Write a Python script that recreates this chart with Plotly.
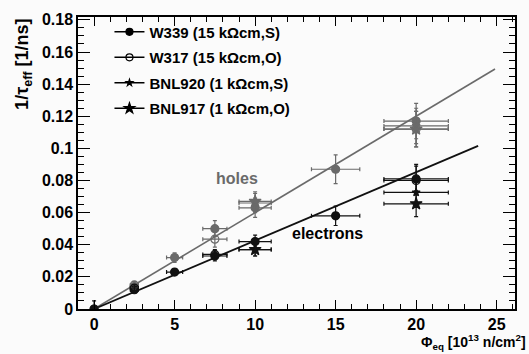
import plotly.graph_objects as go

# ---- data ----
samples = ["W339 (15 kΩcm,S)", "W317 (15 kΩcm,O)", "BNL920 (1 kΩcm,S)", "BNL917 (1 kΩcm,O)"]
symbols = ["circle", "circle-open", "star", "star"]
msizes = [8, 8, 6, 9]

# fluence [1e13 n/cm2]
w339_phi = [0, 2.5, 5, 7.5, 10, 15, 20]
w339_holes = [0.0, 0.014, 0.032, 0.050, 0.063, 0.087, 0.117]
w339_holes_err = [0.0, 0.002, 0.003, 0.005, 0.006, 0.009, 0.011]
w339_elec = [0.0, 0.012, 0.023, 0.033, 0.042, 0.058, 0.081]
w339_elec_err = [0.005, 0.002, 0.002, 0.003, 0.004, 0.006, 0.009]

w317_phi = [2.5, 7.5, 20]
w317_holes = [0.015, 0.0435, 0.112]
w317_holes_err = [0.002, 0.005, 0.011]
w317_elec = [0.013, 0.034, 0.080]
w317_elec_err = [0.002, 0.003, 0.009]

bnl920_phi = [10, 20]
bnl920_holes = [0.066, 0.114]
bnl920_holes_err = [0.006, 0.011]
bnl920_elec = [0.037, 0.0726]
bnl920_elec_err = [0.004, 0.008]

bnl917_phi = [10, 20]
bnl917_holes = [0.067, 0.112]
bnl917_holes_err = [0.006, 0.011]
bnl917_elec = [0.037, 0.0655]
bnl917_elec_err = [0.004, 0.008]

phi_rel_err = 0.10

# linear fits
fit_holes_x = [0, 24.9]
fit_holes_slope = 0.00600
fit_elec_x = [0, 23.85]
fit_elec_slope = 0.00426

x_ticks = [0, 5, 10, 15, 20, 25]
y_ticks = [0, 0.02, 0.04, 0.06, 0.08, 0.1, 0.12, 0.14, 0.16, 0.18]

HOLE_C = "#6a6a6a"
ELEC_C = "#111111"
FONT = "Liberation Sans"

fig = go.Figure()

# fit lines
fig.add_trace(go.Scatter(x=fit_holes_x, y=[fit_holes_slope * v for v in fit_holes_x],
                         mode="lines", line=dict(color=HOLE_C, width=1.6), showlegend=False, hoverinfo="skip"))
fig.add_trace(go.Scatter(x=fit_elec_x, y=[fit_elec_slope * v for v in fit_elec_x],
                         mode="lines", line=dict(color=ELEC_C, width=1.8), showlegend=False, hoverinfo="skip"))

sets = [
    (w339_phi, w339_holes, w339_holes_err, w339_elec, w339_elec_err),
    (w317_phi, w317_holes, w317_holes_err, w317_elec, w317_elec_err),
    (bnl920_phi, bnl920_holes, bnl920_holes_err, bnl920_elec, bnl920_elec_err),
    (bnl917_phi, bnl917_holes, bnl917_holes_err, bnl917_elec, bnl917_elec_err),
]

for i, (phi, h, he, e, ee) in enumerate(sets):
    xerr = [phi_rel_err * p for p in phi]
    for yv, ye, col in ((h, he, HOLE_C), (e, ee, ELEC_C)):
        fig.add_trace(go.Scatter(
            x=phi, y=yv, mode="markers",
            marker=dict(symbol=symbols[i], size=msizes[i], color=col,
                        line=dict(color=col, width=1.2)),
            error_x=dict(type="data", array=xerr, color=col, thickness=1.2, width=2),
            error_y=dict(type="data", array=ye, color=col, thickness=1.2, width=2),
            showlegend=False, hoverinfo="skip"))

# legend entries
for i, name in enumerate(samples):
    fig.add_trace(go.Scatter(
        x=[None], y=[None], mode="lines+markers", name=name,
        legendgroup=f"g{i}",
        marker=dict(symbol=symbols[i], size=msizes[i] - 1, color="black", line=dict(color="black", width=1.2)),
        line=dict(color="black", width=1.5)))

fig.add_annotation(x=8.9, y=0.0815, text="holes", showarrow=False,
                   font=dict(family=FONT, size=16, color=HOLE_C, weight="bold"))
fig.add_annotation(x=14.5, y=0.0467, text="electrons", showarrow=False,
                   font=dict(family=FONT, size=16, color="black", weight="bold"))

fig.add_annotation(xref="paper", yref="paper", x=-0.125, y=1.0, xanchor="center", yanchor="top",
                   text="1/τ<sub>eff</sub> [1/ns]", textangle=-90, showarrow=False,
                   font=dict(family=FONT, size=18, color="black", weight="bold"))
fig.add_annotation(xref="paper", yref="paper", x=1.03, y=-0.112, xanchor="right", yanchor="middle",
                   text="Φ<sub>eq</sub> [10<sup>13</sup> n/cm<sup>2</sup>]", showarrow=False,
                   font=dict(family=FONT, size=14, color="black", weight="bold"))

axis_common = dict(showgrid=False, zeroline=False, showline=True, linecolor="black", linewidth=1.5,
                   mirror="ticks", ticks="inside", tickcolor="black", tickwidth=1.2,
                   tickfont=dict(family=FONT, size=16, color="black", weight="bold"))

fig.update_xaxes(range=[-1.0, 26.14], tickvals=x_ticks, ticklen=9,
                 minor=dict(dtick=1, tick0=0, ticks="inside", ticklen=5, tickcolor="black", tickwidth=1.2),
                 **axis_common)
fig.update_yaxes(range=[0, 0.1818], tickvals=y_ticks, ticktext=[f"{v:g}" for v in y_ticks], ticklen=12,
                 minor=dict(dtick=0.005, tick0=0, ticks="inside", ticklen=6, tickcolor="black", tickwidth=1.2),
                 **axis_common)

fig.update_layout(
    width=529, height=354,
    margin=dict(l=78, r=14, t=12, b=45),
    paper_bgcolor="#fbfbfb", plot_bgcolor="#fbfbfb",
    font=dict(family=FONT, color="black"),
    legend=dict(x=0.072, y=1.005, xanchor="left", yanchor="top",
                bgcolor="rgba(0,0,0,0)", tracegroupgap=3, itemwidth=30,
                font=dict(family=FONT, size=15, color="black", weight="bold")),
)

fig.write_html("out.html")
